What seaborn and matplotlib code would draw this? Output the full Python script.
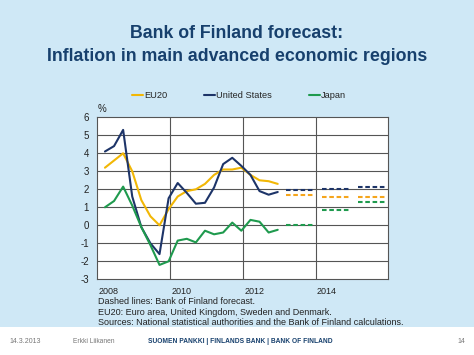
import numpy as np
import pandas as pd
import matplotlib
matplotlib.use("Agg")
import matplotlib.pyplot as plt
import seaborn as sns

sns.set_theme(style="white")
plt.rcParams["font.family"] = ["Liberation Sans", "DejaVu Sans"]

# quarterly observations 2008Q1 .. 2012Q4
quarters = pd.period_range("2008Q1", "2012Q4", freq="Q")
eu20 = [3.2, 3.6, 4.0, 3.0, 1.4, 0.5, 0.0, 0.9, 1.6, 1.9, 2.0, 2.3,
        2.8, 3.1, 3.1, 3.2, 2.8, 2.5, 2.45, 2.3]
us = [4.1, 4.4, 5.3, 1.6, -0.1, -1.0, -1.6, 1.5, 2.35, 1.8, 1.2, 1.25,
      2.1, 3.4, 3.75, 3.3, 2.8, 1.9, 1.7, 1.85]
japan = [1.0, 1.35, 2.15, 1.1, -0.1, -1.1, -2.2, -2.0, -0.85, -0.75, -0.95, -0.3,
         -0.5, -0.4, 0.15, -0.3, 0.3, 0.2, -0.4, -0.25]

# Bank of Finland forecasts (annual)
fc_years = [2013, 2014, 2015]
fc_eu20 = [1.7, 1.55, 1.6]
fc_us = [1.95, 2.0, 2.15]
fc_japan = [0.0, 0.85, 1.3]

colors = {"EU20": "#f2b705", "United States": "#1d3468", "Japan": "#1f9a4e"}
fc_colors = {"EU20": "#f5a51c", "United States": "#1d3468", "Japan": "#1f9a4e"}

t = np.array([q.year + (q.quarter - 1) / 4 + 0.21 for q in quarters])
df = pd.concat([
    pd.DataFrame({"t": t, "value": eu20, "region": "EU20"}),
    pd.DataFrame({"t": t, "value": us, "region": "United States"}),
    pd.DataFrame({"t": t, "value": japan, "region": "Japan"}),
])

fig = plt.figure(figsize=(4.74, 3.55), dpi=100)
fig.patch.set_facecolor("#cfe8f6")

# white footer band
fig.patches.append(plt.Rectangle((0, 0), 1, 0.079, transform=fig.transFigure,
                                 facecolor="white", edgecolor="none", zorder=0))

ax = fig.add_axes([0.2053, 0.2132, 0.6139, 0.4564])
ax.set_facecolor("white")

sns.lineplot(ax=ax, data=df, x="t", y="value", hue="region",
             palette=colors, linewidth=1.5, legend=False, zorder=3)

for name, vals in [("United States", fc_us), ("EU20", fc_eu20), ("Japan", fc_japan)]:
    for yr, v in zip(fc_years, vals):
        ax.hlines(v, yr + 0.18, yr + 0.92, colors=fc_colors[name],
                  linestyles=(0, (2.2, 1.3)), linewidth=1.5, zorder=3)

ax.set_xlim(2008, 2016)
ax.set_ylim(-3, 6)
ax.set_yticks(range(-3, 7))
ax.set_yticklabels([str(v) for v in range(-3, 7)], fontsize=7)
ax.set_xticks([2010, 2012, 2014])
ax.set_xticks([2009, 2011, 2013, 2015], minor=True)
ax.set_xticklabels([])
for yr in [2008, 2010, 2012, 2014]:
    ax.text(yr + 0.04, -3.79, str(yr), fontsize=6.5, ha="left", va="baseline",
            color="#222222")
ax.tick_params(axis="y", length=0, pad=6, colors="#222222")
ax.tick_params(axis="x", which="both", direction="in", length=2, color="#555555")
ax.set_xlabel("")
ax.set_ylabel("")
for y in range(-2, 6):
    ax.axhline(y, color="#555555", linewidth=0.8, zorder=1)
for x in [2010, 2012, 2014]:
    ax.axvline(x, color="#555555", linewidth=0.8, zorder=1)
for s in ax.spines.values():
    s.set_color("#555555")
    s.set_linewidth(0.8)
ax.text(2008, 6.2, "%", fontsize=7, ha="left", va="bottom", color="#222222")

# legend
handles = [plt.Line2D([], [], color=colors[k], linewidth=1.5) for k in colors]
fig.legend(handles, list(colors), loc="center left", bbox_to_anchor=(0.279, 0.7296),
           ncol=3, frameon=False, fontsize=6.7, handlelength=1.15,
           handletextpad=0.1, columnspacing=4.0, borderpad=0, borderaxespad=0)

# title
fig.text(0.5, 0.907, "Bank of Finland forecast:", ha="center", va="center",
         fontsize=12.8, fontweight="bold", color="#17406d")
fig.text(0.5, 0.84, "Inflation in main advanced economic regions", ha="center",
         va="center", fontsize=12.8, fontweight="bold", color="#17406d")

# notes
notes = ["Dashed lines: Bank of Finland forecast.",
         "EU20: Euro area, United Kingdom, Sweden and Denmark.",
         "Sources: National statistical authorities and the Bank of Finland calculations."]
for i, line in enumerate(notes):
    fig.text(0.206, 0.1423 - i * 0.0296, line, fontsize=6.5, ha="left",
             va="baseline", color="#222222")

# footer
fig.text(0.021, 0.039, "14.3.2013", fontsize=5, color="#777777", va="center")
fig.text(0.154, 0.039, "Erkki Liikanen", fontsize=4.8, color="#777777", va="center")
fig.text(0.312, 0.039, "SUOMEN PANKKI | FINLANDS BANK | BANK OF FINLAND", fontsize=4.8,
         fontweight="bold", color="#17406d", va="center")
fig.text(0.965, 0.039, "14", fontsize=5, color="#777777", va="center")

fig.savefig("out.png", dpi=100, facecolor=fig.get_facecolor())
